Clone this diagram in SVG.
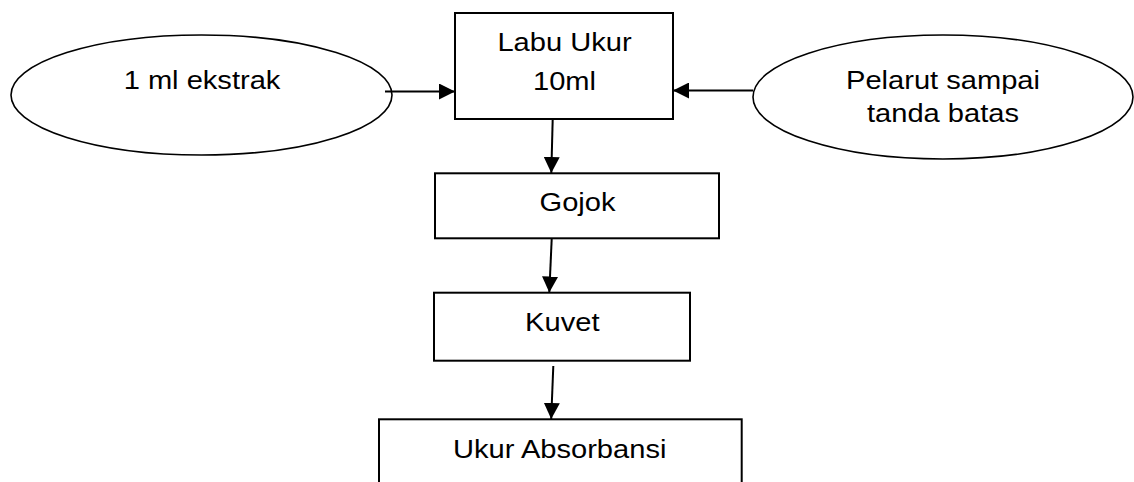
<svg xmlns="http://www.w3.org/2000/svg" width="1134" height="482" viewBox="0 0 1134 482">
  <defs>
    <marker id="arrow" viewBox="0 0 16 16" refX="16" refY="8" markerWidth="16" markerHeight="16" markerUnits="userSpaceOnUse" orient="auto">
      <path d="M0,0 L16,8 L0,16 Z" fill="#000"/>
    </marker>
    <style>
      .box { fill: #fff; stroke: #000; stroke-width: 2; }
      .oval { fill: #fff; stroke: #000; stroke-width: 1.6; }
      .lbl { font-family: "Liberation Sans", Arial, sans-serif; font-size: 26.5px; fill: #000; text-anchor: middle; }
      .edge { stroke: #000; stroke-width: 2; fill: none; marker-end: url(#arrow); }
    </style>
  </defs>
  <rect width="1134" height="482" fill="#fff"/>

  <g id="ekstrak">
    <ellipse class="oval" cx="201.5" cy="95" rx="190.5" ry="60"/>
    <text class="lbl" transform="translate(202,88.5) scale(1.098,1)">1 ml ekstrak</text>
  </g>

  <g id="labu-ukur">
    <rect class="box" x="455" y="13" width="218" height="106"/>
    <text class="lbl" transform="translate(564.5,50.7) scale(1.098,1)">Labu Ukur</text>
    <text class="lbl" transform="translate(564.5,90) scale(1.098,1)">10ml</text>
  </g>

  <g id="pelarut">
    <ellipse class="oval" cx="943" cy="97" rx="190" ry="62"/>
    <text class="lbl" transform="translate(943,89) scale(1.098,1)">Pelarut sampai</text>
    <text class="lbl" transform="translate(943,121.7) scale(1.098,1)">tanda batas</text>
  </g>

  <g id="gojok">
    <rect class="box" x="435" y="173.3" width="284" height="65"/>
    <text class="lbl" transform="translate(577.5,210.7) scale(1.098,1)">Gojok</text>
  </g>

  <g id="kuvet">
    <rect class="box" x="434" y="292.7" width="256" height="68"/>
    <text class="lbl" transform="translate(562.3,330.7) scale(1.098,1)">Kuvet</text>
  </g>

  <g id="ukur-absorbansi">
    <rect class="box" x="379" y="419.3" width="362.7" height="80"/>
    <text class="lbl" transform="translate(559.7,458.3) scale(1.098,1)">Ukur Absorbansi</text>
  </g>

  <g id="connectors">
    <line class="edge" x1="385" y1="91.5" x2="455" y2="91.5"/>
    <line class="edge" x1="753" y1="90.5" x2="673" y2="90.5"/>
    <line class="edge" x1="552.7" y1="119" x2="551.3" y2="173"/>
    <line class="edge" x1="551.7" y1="239" x2="549.3" y2="292.5"/>
    <line class="edge" x1="553.3" y1="366" x2="551.2" y2="419"/>
  </g>
</svg>
